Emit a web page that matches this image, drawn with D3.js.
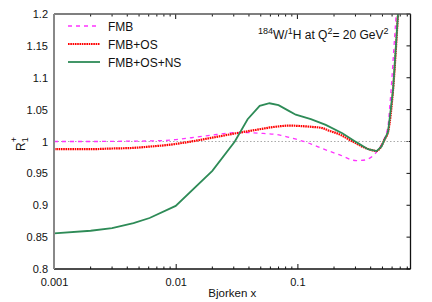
<!DOCTYPE html>
<html>
<head>
<meta charset="utf-8">
<script src="https://cdn.jsdelivr.net/npm/d3@7"></script>
<style>
  body { margin: 0; background: white; }
  text { font-family: "Liberation Sans", Arial, sans-serif; font-size: 11px; fill: #111; }
</style>
</head>
<body>
<svg id="chart" width="432" height="302"></svg>
<script>
// values: [Bjorken x, R1+]
var fmb = [
  [0.001, 1.000], [0.002, 1.000], [0.004, 1.0005], [0.0065, 1.001], [0.01, 1.003],
  [0.015, 1.007], [0.0217, 1.011], [0.028, 1.0135], [0.036, 1.014], [0.049, 1.013],
  [0.072, 1.010], [0.087, 1.006], [0.1, 1.003], [0.13, 0.996], [0.16, 0.989],
  [0.223, 0.979], [0.305, 0.970], [0.36, 0.971], [0.393, 0.974], [0.44, 0.982],
  [0.49, 0.995], [0.53, 1.010], [0.556, 1.025], [0.574, 1.055], [0.591, 1.085],
  [0.62, 1.145], [0.648, 1.2], [0.675, 1.26]
];
var fmbOs = [
  [0.001, 0.988], [0.002, 0.988], [0.003, 0.989], [0.0045, 0.990], [0.0061, 0.992],
  [0.009, 0.995], [0.0125, 0.999], [0.02, 1.006], [0.0337, 1.014], [0.045, 1.018],
  [0.065, 1.023], [0.087, 1.025], [0.1, 1.0245], [0.13, 1.023], [0.161, 1.021],
  [0.182, 1.017], [0.223, 1.011], [0.266, 1.003], [0.305, 0.997], [0.36, 0.990],
  [0.418, 0.986], [0.447, 0.985], [0.48, 0.990], [0.52, 1.003], [0.556, 1.015],
  [0.611, 1.081], [0.671, 1.2], [0.7, 1.26]
];
var fmbOsNs = [
  [0.001, 0.856], [0.002, 0.860], [0.003, 0.864], [0.0045, 0.872], [0.0061, 0.880],
  [0.01, 0.899], [0.02, 0.954], [0.0306, 1.000], [0.039, 1.035], [0.049, 1.056],
  [0.059, 1.060], [0.07, 1.057], [0.085, 1.048], [0.097, 1.042], [0.129, 1.035],
  [0.171, 1.026], [0.234, 1.013], [0.305, 0.999], [0.38, 0.988], [0.447, 0.985],
  [0.49, 0.992], [0.52, 1.003], [0.556, 1.015], [0.611, 1.081], [0.671, 1.2], [0.7, 1.26]
];
var xTicks = [0.001, 0.01, 0.1];
var yTicks = [0.8, 0.85, 0.9, 0.95, 1, 1.05, 1.1, 1.15, 1.2];
var legendLabels = ["FMB", "FMB+OS", "FMB+OS+NS"];

var mLeft = 54, mTop = 14, w = 356.5, h = 255;

var svg = d3.select("#chart");
var x = d3.scaleLog().domain([0.001, 0.85]).range([mLeft, mLeft + w]);
var y = d3.scaleLinear().domain([0.8, 1.2]).range([mTop + h, mTop]);

svg.append("clipPath").attr("id", "clip")
  .append("rect").attr("x", mLeft).attr("y", mTop).attr("width", w).attr("height", h);

// minor ticks on the log axis
var minor = [];
[0.001, 0.01, 0.1].forEach(function(d) {
  for (var k = 2; k <= 9; k++) { if (d * k <= 0.85) minor.push(d * k); }
});

// bottom axis
svg.append("g").attr("transform", "translate(0," + (mTop + h) + ")")
  .call(d3.axisBottom(x).tickValues(xTicks).tickSize(-5).tickPadding(9).tickFormat(d3.format("")))
  .call(function(g) { g.select(".domain").remove(); });
svg.append("g").selectAll("line").data(minor).enter().append("line")
  .attr("x1", x).attr("x2", x).attr("y1", mTop + h).attr("y2", mTop + h - 2.5)
  .attr("stroke", "#111");
// top axis ticks
svg.append("g").selectAll("line").data(xTicks.concat(minor)).enter().append("line")
  .attr("x1", x).attr("x2", x).attr("y1", mTop)
  .attr("y2", function(d) { return xTicks.indexOf(d) >= 0 ? mTop + 5 : mTop + 2.5; })
  .attr("stroke", "#111");

// left axis
svg.append("g").attr("transform", "translate(" + mLeft + ",0)")
  .call(d3.axisLeft(y).tickValues(yTicks).tickSize(0).tickPadding(6).tickFormat(d3.format("")))
  .call(function(g) { g.select(".domain").remove(); });
// right axis ticks
svg.append("g").selectAll("line").data(yTicks).enter().append("line")
  .attr("x1", mLeft + w).attr("x2", mLeft + w - 4).attr("y1", y).attr("y2", y)
  .attr("stroke", "#111");

svg.selectAll(".tick text").style("font-size", "11px").attr("fill", "#111");
svg.selectAll(".tick line").attr("stroke", "#111");

// reference line at 1
svg.append("line")
  .attr("x1", mLeft).attr("x2", mLeft + w).attr("y1", y(1)).attr("y2", y(1))
  .attr("stroke", "#aaa").attr("stroke-width", 1.2).attr("stroke-dasharray", "1.5,2");

var line = d3.line().x(function(d) { return x(d[0]); }).y(function(d) { return y(d[1]); })
  .curve(d3.curveMonotoneX);
var lineLin = d3.line().x(function(d) { return x(d[0]); }).y(function(d) { return y(d[1]); });

var plot = svg.append("g").attr("clip-path", "url(#clip)");
plot.append("path").attr("d", line(fmb)).attr("fill", "none")
  .attr("stroke", "#ff33ff").attr("stroke-width", 1.3).attr("stroke-dasharray", "4,4");
plot.append("path").attr("d", line(fmbOs)).attr("fill", "none")
  .attr("stroke", "#ff0000").attr("stroke-width", 2.2).attr("stroke-dasharray", "1.6,0.7");
plot.append("path").attr("d", lineLin(fmbOsNs)).attr("fill", "none")
  .attr("stroke", "#2e8b57").attr("stroke-width", 1.8);

// frame
svg.append("line").attr("x1", mLeft).attr("x2", mLeft + w).attr("y1", mTop + h).attr("y2", mTop + h)
  .attr("stroke", "#111").attr("stroke-width", 1.5);
svg.append("line").attr("x1", mLeft + w).attr("x2", mLeft + w).attr("y1", mTop).attr("y2", mTop + h)
  .attr("stroke", "#111").attr("stroke-width", 1.3);
svg.append("line").attr("x1", mLeft).attr("x2", mLeft + w).attr("y1", mTop).attr("y2", mTop)
  .attr("stroke", "#555").attr("stroke-width", 1.3);
svg.append("line").attr("x1", mLeft).attr("x2", mLeft).attr("y1", mTop).attr("y2", mTop + h)
  .attr("stroke", "#888").attr("stroke-width", 2);

// legend
var styles = [
  { stroke: "#ff33ff", width: 1.3, dash: "4,4" },
  { stroke: "#ff0000", width: 2.2, dash: "1.6,0.7" },
  { stroke: "#2e8b57", width: 1.8, dash: null }
];
var leg = svg.append("g").selectAll("g").data(legendLabels).enter().append("g")
  .attr("transform", function(d, i) { return "translate(0," + (26 + i * 18) + ")"; });
leg.append("line").attr("x1", 68).attr("x2", 100).attr("y1", 0).attr("y2", 0)
  .attr("stroke", function(d, i) { return styles[i].stroke; })
  .attr("stroke-width", function(d, i) { return styles[i].width; })
  .attr("stroke-dasharray", function(d, i) { return styles[i].dash; });
leg.append("text").attr("x", 108).attr("y", 4.5).style("font-size", "12px").text(function(d) { return d; });

// annotation
var ann = svg.append("text").attr("x", 258).attr("y", 38.5).style("font-size", "12px");
ann.append("tspan").attr("dy", -4.5).style("font-size", "9px").text("184");
ann.append("tspan").attr("dy", 4.5).text("W/");
ann.append("tspan").attr("dy", -4.5).style("font-size", "9px").text("1");
ann.append("tspan").attr("dy", 4.5).text("H at Q");
ann.append("tspan").attr("dy", -4.5).style("font-size", "9px").text("2");
ann.append("tspan").attr("dy", 4.5).text("= 20 GeV");
ann.append("tspan").attr("dy", -4.5).style("font-size", "9px").text("2");

// axis titles
svg.append("text").attr("x", mLeft + w / 2).attr("y", 297).attr("text-anchor", "middle")
  .style("font-size", "11.5px").text("Bjorken x");
var yl = svg.append("text").attr("transform", "translate(25,151) rotate(-90)").style("font-size", "12px");
yl.append("tspan").text("R");
yl.append("tspan").attr("dy", 3).style("font-size", "9px").text("1");
yl.append("tspan").attr("dx", -5).attr("dy", -11).style("font-size", "9px").text("+");
</script>
</body>
</html>
